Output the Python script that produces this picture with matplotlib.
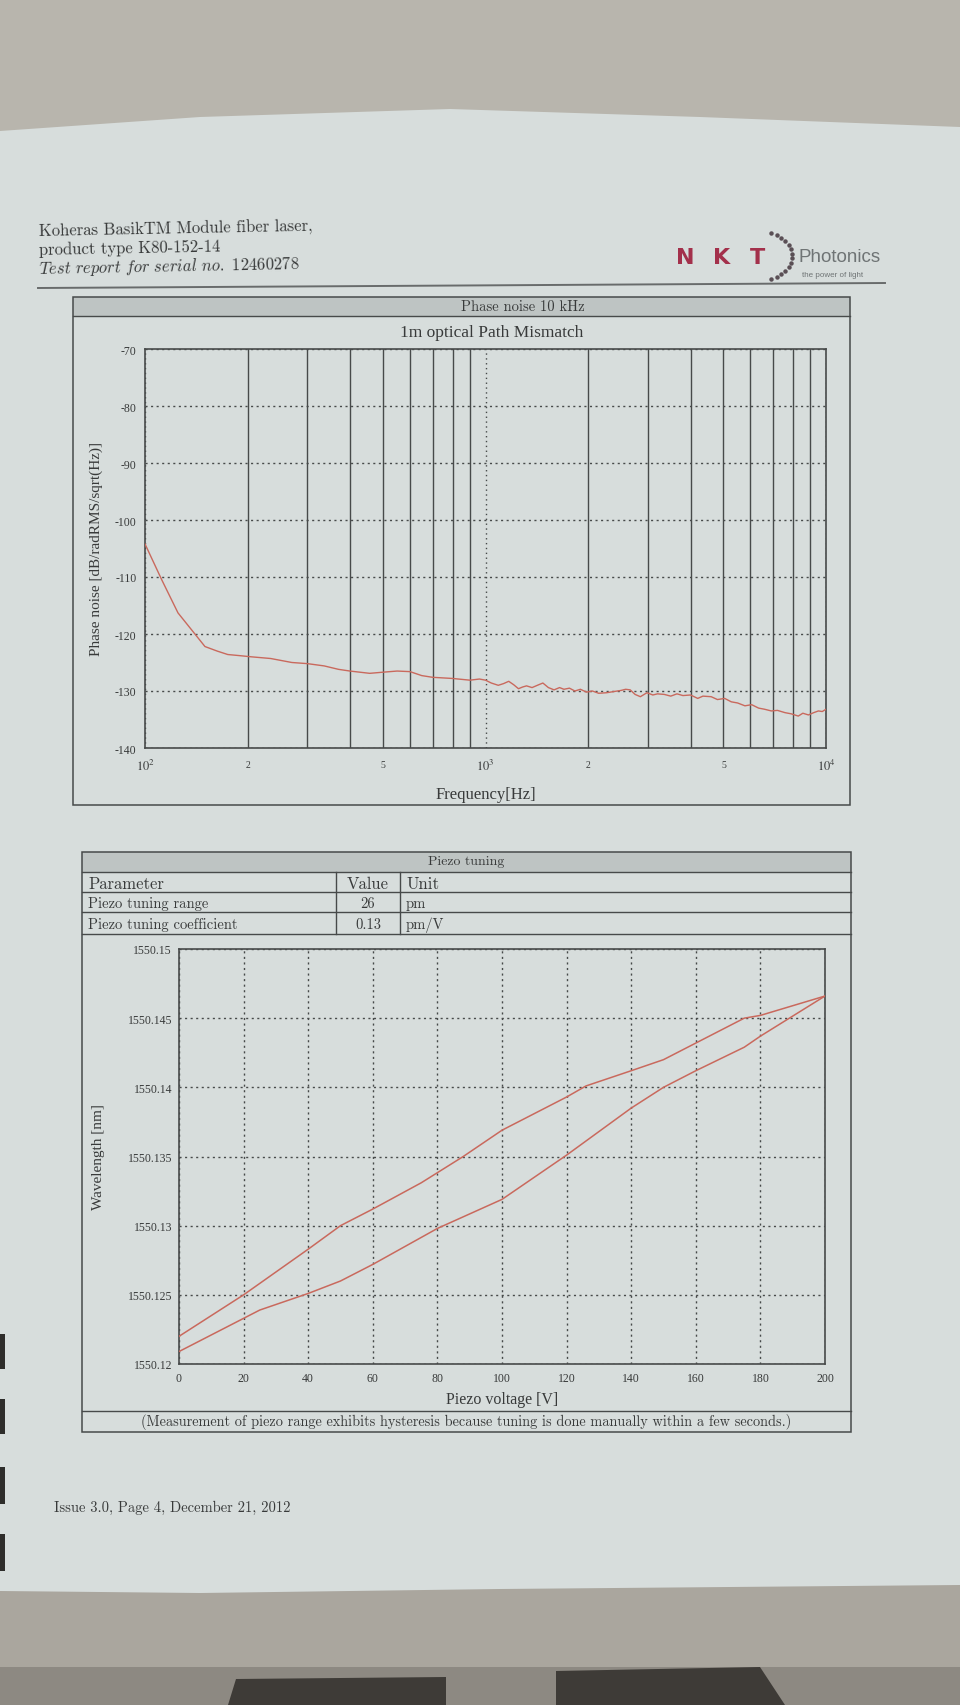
import numpy as np
import matplotlib
matplotlib.use('Agg')
import matplotlib.pyplot as plt
from matplotlib.patches import Rectangle, Polygon
from matplotlib.lines import Line2D
from matplotlib.ticker import FixedLocator, FixedFormatter

# ---------------- data ----------------
pn_freq = [100, 112, 125, 138, 150, 163, 175, 190, 205, 234, 270, 300, 336, 370, 400,
           457, 500, 550, 600, 650, 700, 800, 900, 960, 1000, 1040, 1090, 1130, 1170,
           1210, 1250, 1285, 1320, 1370, 1420, 1474, 1530, 1590, 1650, 1700, 1764, 1830,
           1900, 1980, 2060, 2150, 2270, 2380, 2500, 2580, 2660, 2750, 2850, 2980, 3100,
           3200, 3350, 3500, 3650, 3800, 4000, 4100, 4200, 4350, 4600, 4800, 5040, 5270,
           5500, 5780, 6050, 6340, 6600, 6910, 7200, 7580, 7900, 8290, 8550, 8880, 9200,
           9500, 9750, 10000]
pn_value = [-104.2, -110.5, -116.3, -119.5, -122.2, -123.0, -123.6, -123.8, -124.0, -124.3,
            -125.0, -125.2, -125.6, -126.2, -126.5, -126.9, -126.7, -126.5, -126.6, -127.3,
            -127.6, -127.8, -128.1, -127.9, -128.1, -128.6, -129.0, -128.7, -128.3, -128.9,
            -129.6, -129.3, -129.1, -129.4, -129.0, -128.6, -129.4, -129.8, -129.4, -129.7,
            -129.5, -130.0, -129.7, -130.2, -130.0, -130.4, -130.3, -130.1, -129.9, -129.7,
            -129.8, -130.6, -131.0, -130.3, -130.7, -130.5, -130.6, -130.9, -130.5, -130.8,
            -130.7, -131.0, -131.3, -130.9, -131.0, -131.5, -131.3, -131.9, -132.1, -132.6,
            -132.4, -133.0, -133.2, -133.5, -133.4, -133.8, -134.0, -134.4, -133.9, -134.2,
            -133.8, -133.5, -133.6, -133.2]
pn_yticks = [-70, -80, -90, -100, -110, -120, -130, -140]
pn_ylabels = ['-70', '-80', '-90', '-100', '-110', '-120', '-130', '-140']
pn_xmajor = [100, 1000, 10000]
pn_xmajor_labels = ['$10^2$', '$10^3$', '$10^4$']
pn_xminor = [200, 300, 400, 500, 600, 700, 800, 900,
             2000, 3000, 4000, 5000, 6000, 7000, 8000, 9000]
pn_xminor_labels = ['2', '', '', '5', '', '', '', '', '2', '', '', '5', '', '', '', '']

up_volt = [0, 20, 40, 50, 60, 75, 88, 100, 120, 126, 140, 150, 160, 175, 180, 200]
up_wl = [1550.1220, 1550.1250, 1550.1283, 1550.1300, 1550.1312, 1550.1331, 1550.1350,
         1550.1369, 1550.1393, 1550.1401, 1550.1412, 1550.1420, 1550.1432, 1550.1450,
         1550.1452, 1550.1466]
low_volt = [0, 25, 40, 50, 60, 80, 100, 120, 140, 150, 160, 175, 180, 200]
low_wl = [1550.1209, 1550.1239, 1550.1251, 1550.1260, 1550.1272, 1550.1298, 1550.1319,
          1550.1351, 1550.1385, 1550.1400, 1550.1412, 1550.1429, 1550.1437, 1550.1466]
pz_xticks = [0, 20, 40, 60, 80, 100, 120, 140, 160, 180, 200]
pz_yticks = [1550.12, 1550.125, 1550.13, 1550.135, 1550.14, 1550.145, 1550.15]
pz_ylabels = ['1550.12', '1550.125', '1550.13', '1550.135', '1550.14', '1550.145', '1550.15']

table_header = ['Parameter', 'Value', 'Unit']
table_rows = [['Piezo tuning range', '26', 'pm'],
              ['Piezo tuning coefficient', '0.13', 'pm/V']]

# ---------------- style ----------------
PAGE = '#d7dddc'
BAND = '#bec4c3'
WALL = '#b8b5ad'
BELOW = '#aaa69e'
TEXT = '#383a3a'
LINE = '#474a4a'
CURVE = '#c9695d'
CM = 'cmr10'
TIMES = 'Liberation Serif'

plt.rcParams['font.family'] = TIMES
plt.rcParams['mathtext.fontset'] = 'stix'
plt.rcParams['axes.unicode_minus'] = False

W, H = 960, 1706
def fx(x): return x / W
def fy(y): return 1 - y / H

fig = plt.figure(figsize=(9.6, 17.06), dpi=100)
fig.patch.set_facecolor(PAGE)

def rect(x0, y0, x1, y1, fc='none', ec='none', lw=1.0, z=0):
    fig.patches.append(Rectangle((fx(x0), fy(y1)), (x1 - x0) / W, (y1 - y0) / H,
                                 transform=fig.transFigure, facecolor=fc,
                                 edgecolor=ec, lw=lw, zorder=z))

def seg(x0, y0, x1, y1, color=LINE, lw=1.0, z=1):
    fig.add_artist(Line2D([fx(x0), fx(x1)], [fy(y0), fy(y1)],
                          transform=fig.transFigure, color=color, lw=lw, zorder=z))

def txt(x, y, s, size=10, family=CM, ha='left', va='center', **kw):
    fig.text(fx(x), fy(y), s, fontsize=size, family=family, ha=ha, va=va,
             color=kw.pop('color', TEXT), **kw)

# photo surroundings
fig.patches.append(Polygon([(fx(0), fy(0)), (fx(960), fy(0)), (fx(960), fy(128)),
                            (fx(700), fy(118)), (fx(450), fy(110)), (fx(200), fy(118)),
                            (fx(0), fy(132))], closed=True, transform=fig.transFigure,
                           facecolor=WALL, edgecolor='none', zorder=0))
fig.patches.append(Polygon([(fx(0), fy(1706)), (fx(960), fy(1706)), (fx(960), fy(1586)),
                            (fx(500), fy(1590)), (fx(200), fy(1594)), (fx(0), fy(1592))],
                           closed=True, transform=fig.transFigure,
                           facecolor=BELOW, edgecolor='none', zorder=0))
rect(0, 1668, 960, 1706, fc='#8d8982')
fig.patches.append(Polygon([(fx(228), fy(1706)), (fx(236), fy(1680)), (fx(446), fy(1678)),
                            (fx(446), fy(1706))], closed=True, transform=fig.transFigure,
                           facecolor='#3e3b37', edgecolor='none', zorder=0))
fig.patches.append(Polygon([(fx(556), fy(1706)), (fx(556), fy(1672)), (fx(760), fy(1668)),
                            (fx(785), fy(1706))], closed=True, transform=fig.transFigure,
                           facecolor='#3e3b37', edgecolor='none', zorder=0))
for (a, b) in [(1335, 1370), (1400, 1435), (1468, 1505), (1535, 1572)]:
    rect(0, a, 5, b, fc='#2e2d2b')

# ---------------- header ----------------
txt(39, 232, 'Koheras BasikTM Module fiber laser,', size=12, rotation=1.1,
    rotation_mode='anchor')
txt(39, 250, 'product type K80-152-14', size=12, rotation=1.1, rotation_mode='anchor')
fig.text(fx(39), fy(269), r'$\mathit{Test\ report\ for\ serial\ no.\ 12460278}$',
         fontsize=12, math_fontfamily='cm', color=TEXT, ha='left', va='center',
         rotation=1.1, rotation_mode='anchor')
seg(38, 289, 885, 284, color='#686b6b', lw=1.4)

# logo
for letter, lx in zip('NKT', [676, 713, 750]):
    txt(lx, 258, letter, size=16, family='DejaVu Sans', fontweight='bold',
        color='#a3304b')
ang = np.linspace(-1.25, 1.25, 14)
fig.add_artist(Line2D(fx(762 + 30 * np.cos(ang)), fy(257 - 24 * np.sin(ang)),
                      transform=fig.transFigure, ls='none', marker='o', ms=2.2,
                      color='#5a4f55'))
txt(798, 257, 'Photonics', size=13.5, family='Liberation Sans', color='#6f7475')
txt(802, 276, 'the power of light', size=5.8, family='Liberation Sans', color='#6f7475')

# ---------------- top box ----------------
rect(73, 298, 850, 317, fc=BAND)
rect(73, 298, 850, 806, ec=LINE, lw=1.1, z=1)
seg(73, 317, 850, 317, lw=1.0)
txt(461, 307, 'Phase noise 10 kHz', size=10.5)
txt(492, 333, '1m optical Path Mismatch', size=12.5, family=TIMES, ha='center')

ax1 = fig.add_axes([fx(145), fy(749), (826 - 145) / W, (749 - 350) / H])
ax1.set_facecolor('none')
ax1.plot(pn_freq, pn_value, color=CURVE, lw=1.0, zorder=3)
ax1.set_xscale('log')
ax1.set_xlim(100, 10000)
ax1.set_ylim(-140, -70)
ax1.set_yticks(pn_yticks, pn_ylabels)
ax1.xaxis.set_major_locator(FixedLocator(pn_xmajor))
ax1.xaxis.set_major_formatter(FixedFormatter(pn_xmajor_labels))
ax1.xaxis.set_minor_locator(FixedLocator(pn_xminor))
ax1.xaxis.set_minor_formatter(FixedFormatter(pn_xminor_labels))
ax1.grid(which='minor', axis='x', ls='-', color=LINE, lw=1.0)
ax1.grid(which='major', axis='x', ls=(0, (1, 2.5)), color=LINE, lw=1.0)
ax1.grid(which='major', axis='y', ls=(0, (1.5, 2.5)), color=LINE, lw=1.0)
ax1.tick_params(which='both', length=0, colors=TEXT)
ax1.tick_params(axis='y', labelsize=8.5, pad=6)
ax1.tick_params(axis='x', which='major', labelsize=9, pad=7)
ax1.tick_params(axis='x', which='minor', labelsize=7, pad=9)
for s in ax1.spines.values():
    s.set_color(LINE)
    s.set_linewidth(1.2)
ax1.set_ylabel('Phase noise [dB/radRMS/sqrt(Hz)]', fontsize=11, color=TEXT)
ax1.yaxis.set_label_coords(-0.062, 0.5)
ax1.set_xlabel('Frequency[Hz]', fontsize=12, color=TEXT)
ax1.xaxis.set_label_coords(0.5, -0.095)

# ---------------- bottom box ----------------
rect(82, 853, 851, 873, fc=BAND)
rect(82, 853, 851, 1433, ec=LINE, lw=1.1, z=1)
for yy in [873, 893, 913, 935, 1412]:
    seg(82, yy, 851, yy, lw=1.0)
for xx in [336, 400]:
    seg(xx, 873, xx, 935, lw=1.0)
txt(466, 862, 'Piezo tuning', size=10, ha='center')
txt(88, 884, table_header[0], size=12)
txt(368, 884, table_header[1], size=12, ha='center')
txt(406, 884, table_header[2], size=12)
for i, row in enumerate(table_rows):
    yy = 904 + 21 * i
    txt(88, yy, row[0], size=10.5)
    txt(368, yy, row[1], size=10.5, ha='center')
    txt(406, yy, row[2], size=10.5)
txt(466, 1422, '(Measurement of piezo range exhibits hysteresis because tuning is done '
    'manually within a few seconds.)', size=10.3, ha='center')

ax2 = fig.add_axes([fx(179), fy(1365), (825 - 179) / W, (1365 - 950) / H])
ax2.set_facecolor('none')
ax2.plot(up_volt, up_wl, color=CURVE, lw=1.1, zorder=3)
ax2.plot(low_volt, low_wl, color=CURVE, lw=1.1, zorder=3)
ax2.set_xlim(0, 200)
ax2.set_ylim(1550.12, 1550.15)
ax2.set_xticks(pz_xticks, [str(v) for v in pz_xticks])
ax2.set_yticks(pz_yticks, pz_ylabels)
ax2.grid(True, ls=(0, (1.5, 2.5)), color=LINE, lw=1.0)
ax2.tick_params(length=0, colors=TEXT, labelsize=8.5)
ax2.tick_params(axis='y', pad=5)
ax2.tick_params(axis='x', pad=6)
for s in ax2.spines.values():
    s.set_color(LINE)
    s.set_linewidth(1.2)
ax2.set_ylabel('Wavelength [nm]', fontsize=11, color=TEXT)
ax2.yaxis.set_label_coords(-0.115, 0.5)
ax2.set_xlabel('Piezo voltage [V]', fontsize=11.5, color=TEXT)
ax2.xaxis.set_label_coords(0.5, -0.065)

# ---------------- footer ----------------
txt(54, 1508, 'Issue 3.0, Page 4, December 21, 2012', size=10.5)

fig.savefig('out.png', dpi=100, facecolor=fig.get_facecolor())
